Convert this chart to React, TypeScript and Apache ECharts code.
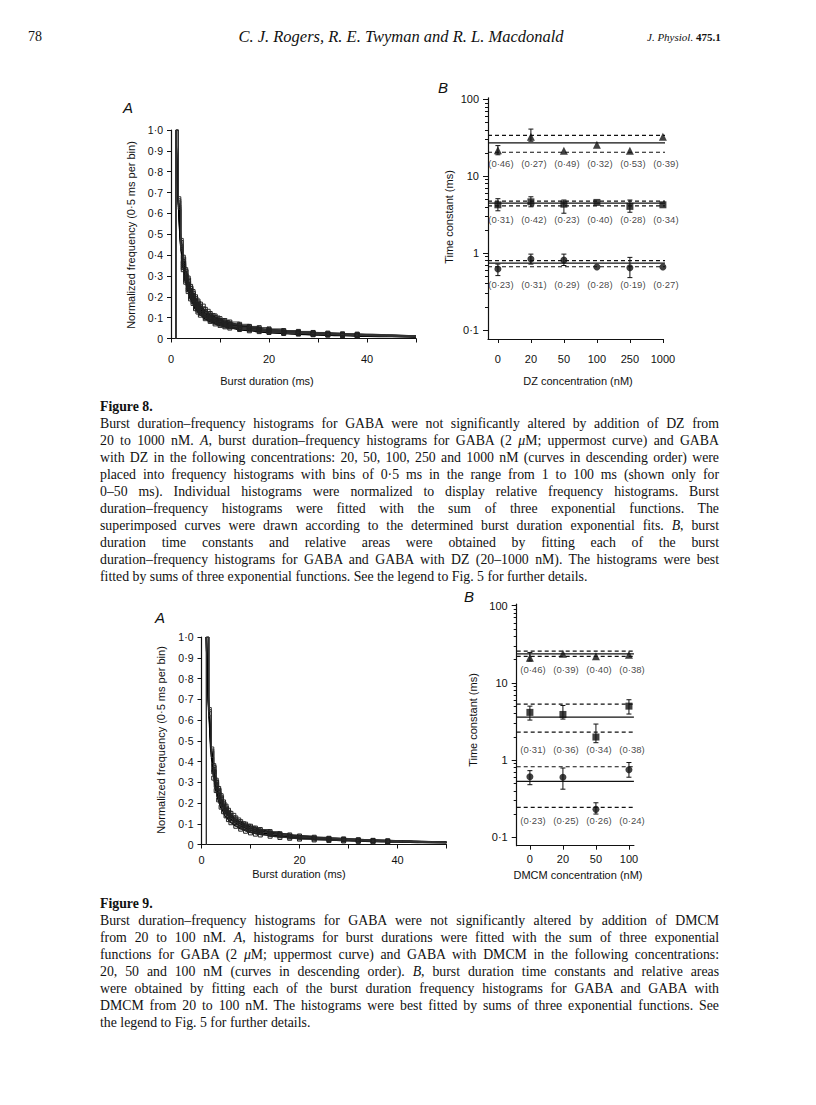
import React, { useEffect, useRef } from "react";
import * as echarts from "echarts";

// ---------- Panels A: histogram bins (ms) and fitted-curve sample points ----------
const HIST_X = [1, 1.5, 2, 2.5, 3, 3.5, 4, 4.5, 5, 5.5, 6, 7, 8, 9, 10, 11, 12, 14, 16, 18, 20, 23, 26, 29, 32, 35, 38, 41, 44, 47, 50];
const FIT_X = [1, 1.25, 1.5, 2, 2.5, 3, 3.5, 4, 5, 6, 7, 8, 10, 12, 15, 20, 25, 30, 35, 40, 45, 50];

// Figure 8A histograms (GABA, DZ 20, 50, 100, 250, 1000 nM)
const H8_GABA = [1.0, 0.68, 0.48, 0.39, 0.33, 0.29, 0.25, 0.225, 0.2, 0.18, 0.165, 0.14, 0.12, 0.108, 0.095, 0.086, 0.079, 0.068, 0.058, 0.052, 0.046, 0.038, 0.034, 0.029, 0.026, 0.022, 0.021, 0.018, 0.015, 0.013, 0.012];
const H8_DZ20 = [1.0, 0.67, 0.47, 0.37, 0.31, 0.275, 0.24, 0.205, 0.19, 0.165, 0.152, 0.128, 0.112, 0.1, 0.086, 0.08, 0.07, 0.062, 0.055, 0.046, 0.042, 0.035, 0.03, 0.027, 0.022, 0.021, 0.018, 0.016, 0.014, 0.012, 0.011];
const H8_DZ50 = [1.0, 0.66, 0.45, 0.36, 0.3, 0.26, 0.222, 0.2, 0.172, 0.158, 0.14, 0.12, 0.1, 0.092, 0.082, 0.07, 0.068, 0.055, 0.051, 0.043, 0.039, 0.031, 0.029, 0.023, 0.022, 0.018, 0.017, 0.014, 0.013, 0.01, 0.009];
const H8_DZ100 = [1.0, 0.64, 0.44, 0.35, 0.29, 0.245, 0.215, 0.185, 0.162, 0.145, 0.13, 0.11, 0.095, 0.083, 0.075, 0.068, 0.06, 0.052, 0.046, 0.041, 0.035, 0.03, 0.026, 0.022, 0.02, 0.017, 0.016, 0.013, 0.012, 0.01, 0.009];
const H8_DZ250 = [1.0, 0.63, 0.43, 0.34, 0.28, 0.235, 0.2, 0.178, 0.152, 0.136, 0.121, 0.102, 0.088, 0.078, 0.069, 0.061, 0.056, 0.048, 0.042, 0.037, 0.032, 0.027, 0.024, 0.02, 0.018, 0.016, 0.014, 0.012, 0.011, 0.009, 0.008];
const H8_DZ1000 = [1.0, 0.62, 0.42, 0.33, 0.27, 0.225, 0.19, 0.168, 0.143, 0.127, 0.112, 0.095, 0.082, 0.07, 0.063, 0.056, 0.05, 0.043, 0.037, 0.033, 0.029, 0.024, 0.021, 0.018, 0.016, 0.014, 0.012, 0.011, 0.009, 0.008, 0.007];

// Figure 8A fitted sums of three exponentials
const F8_GABA = [1.0, 0.82, 0.68, 0.49, 0.39, 0.325, 0.275, 0.24, 0.19, 0.157, 0.133, 0.115, 0.091, 0.075, 0.059, 0.043, 0.034, 0.027, 0.022, 0.018, 0.015, 0.012];
const F8_DZ20 = [1.0, 0.81, 0.67, 0.475, 0.375, 0.31, 0.262, 0.228, 0.178, 0.147, 0.124, 0.107, 0.085, 0.07, 0.055, 0.04, 0.032, 0.025, 0.02, 0.017, 0.014, 0.011];
const F8_DZ50 = [1.0, 0.8, 0.66, 0.462, 0.362, 0.3, 0.252, 0.218, 0.168, 0.138, 0.116, 0.1, 0.079, 0.065, 0.051, 0.037, 0.029, 0.023, 0.019, 0.016, 0.013, 0.01];
const F8_DZ100 = [1.0, 0.79, 0.65, 0.45, 0.35, 0.288, 0.242, 0.208, 0.159, 0.129, 0.108, 0.093, 0.073, 0.06, 0.047, 0.034, 0.027, 0.021, 0.017, 0.014, 0.012, 0.009];
const F8_DZ250 = [1.0, 0.78, 0.64, 0.44, 0.34, 0.277, 0.232, 0.198, 0.15, 0.121, 0.101, 0.086, 0.067, 0.055, 0.043, 0.031, 0.024, 0.019, 0.015, 0.013, 0.011, 0.008];
const F8_DZ1000 = [1.0, 0.77, 0.63, 0.43, 0.33, 0.266, 0.222, 0.188, 0.141, 0.113, 0.094, 0.08, 0.062, 0.05, 0.039, 0.028, 0.022, 0.017, 0.014, 0.011, 0.009, 0.007];

// Figure 9A histograms (GABA, DMCM 20, 50, 100 nM)
const H9_GABA = [1.0, 0.66, 0.47, 0.38, 0.31, 0.27, 0.235, 0.205, 0.185, 0.165, 0.15, 0.128, 0.11, 0.098, 0.088, 0.079, 0.072, 0.062, 0.052, 0.046, 0.041, 0.035, 0.03, 0.027, 0.023, 0.02, 0.018, 0.016, 0.014, 0.012, 0.011];
const H9_DMCM20 = [1.0, 0.65, 0.46, 0.36, 0.3, 0.255, 0.22, 0.195, 0.17, 0.152, 0.138, 0.118, 0.1, 0.09, 0.08, 0.073, 0.065, 0.056, 0.048, 0.041, 0.036, 0.031, 0.028, 0.024, 0.021, 0.019, 0.016, 0.015, 0.013, 0.011, 0.01];
const H9_DMCM50 = [1.0, 0.64, 0.45, 0.35, 0.285, 0.24, 0.205, 0.18, 0.158, 0.14, 0.125, 0.106, 0.09, 0.08, 0.07, 0.063, 0.058, 0.049, 0.042, 0.036, 0.032, 0.027, 0.024, 0.021, 0.018, 0.016, 0.014, 0.013, 0.011, 0.01, 0.009];
const H9_DMCM100 = [1.0, 0.62, 0.42, 0.32, 0.26, 0.215, 0.18, 0.158, 0.138, 0.12, 0.105, 0.088, 0.074, 0.064, 0.056, 0.05, 0.046, 0.04, 0.034, 0.03, 0.026, 0.022, 0.019, 0.017, 0.015, 0.013, 0.012, 0.01, 0.009, 0.008, 0.007];

const F9_GABA = [1.0, 0.8, 0.66, 0.47, 0.37, 0.3, 0.252, 0.218, 0.172, 0.143, 0.122, 0.106, 0.085, 0.071, 0.057, 0.042, 0.033, 0.027, 0.022, 0.018, 0.015, 0.012];
const F9_DMCM20 = [1.0, 0.79, 0.65, 0.455, 0.355, 0.287, 0.24, 0.206, 0.16, 0.132, 0.112, 0.097, 0.077, 0.064, 0.051, 0.037, 0.029, 0.023, 0.019, 0.016, 0.013, 0.011];
const F9_DMCM50 = [1.0, 0.78, 0.64, 0.445, 0.342, 0.275, 0.228, 0.194, 0.149, 0.121, 0.102, 0.088, 0.069, 0.057, 0.045, 0.033, 0.026, 0.021, 0.017, 0.014, 0.012, 0.01];
const F9_DMCM100 = [1.0, 0.77, 0.62, 0.42, 0.318, 0.252, 0.207, 0.175, 0.132, 0.106, 0.089, 0.076, 0.059, 0.049, 0.039, 0.029, 0.023, 0.018, 0.015, 0.012, 0.01, 0.008];

// ---------- Panels B: time constants (ms) ----------
const DZ_CONC = ["0", "20", "50", "100", "250", "1000"];
const F8_TAU3 = [21.8, 32.5, 21.4, 25.6, 21.4, 32.5];
const F8_TAU3_LO = [19, 28.5, null, null, null, null];
const F8_TAU3_HI = [25, 41, null, null, null, null];
const F8_TAU3_LINES = [34, 27.2, 20.5]; // upper dashed, mean, lower dashed
const F8_AREA3 = ["0·46", "0·27", "0·49", "0·32", "0·53", "0·39"];
const F8_TAU2 = [4.25, 4.64, 4.33, 4.56, 4.05, 4.25];
const F8_TAU2_LO = [3.55, 4.0, 3.3, null, 3.4, null];
const F8_TAU2_HI = [5.1, 5.4, 4.9, null, 4.9, null];
const F8_TAU2_LINES = [4.74, 4.47, 4.12];
const F8_AREA2 = ["0·31", "0·42", "0·23", "0·40", "0·28", "0·34"];
const F8_TAU1 = [0.62, 0.836, 0.81, 0.66, 0.645, 0.66];
const F8_TAU1_LO = [0.51, 0.72, 0.69, null, 0.48, null];
const F8_TAU1_HI = [0.72, 0.97, 0.97, null, 0.88, null];
const F8_TAU1_LINES = [0.8, 0.74, 0.665];
const F8_AREA1 = ["0·23", "0·31", "0·29", "0·28", "0·19", "0·27"];

const DMCM_CONC = ["0", "20", "50", "100"];
const F9_TAU3 = [21.1, 23.8, 22.2, 23.1];
const F9_TAU3_LO = [19.2, null, null, null];
const F9_TAU3_HI = [24.8, null, null, null];
const F9_TAU3_LINES = [25.8, 23.8, 22.0];
const F9_AREA3 = ["0·46", "0·39", "0·40", "0·38"];
const F9_TAU2 = [4.15, 3.9, 1.99, 5.0];
const F9_TAU2_LO = [3.3, 3.4, 1.68, 3.95];
const F9_TAU2_HI = [5.0, 5.1, 2.93, 6.05];
const F9_TAU2_LINES = [5.3, 3.6, 2.3];
const F9_AREA2 = ["0·31", "0·36", "0·34", "0·38"];
const F9_TAU1 = [0.61, 0.6, 0.23, 0.75];
const F9_TAU1_LO = [0.48, 0.42, 0.2, 0.6];
const F9_TAU1_HI = [0.73, 0.79, 0.28, 0.93];
const F9_TAU1_LINES = [0.82, 0.53, 0.244];
const F9_AREA1 = ["0·23", "0·25", "0·26", "0·24"];

const LOG_MAJOR = [0.1, 1, 10, 100];
const LOG_MINOR = [0.2, 0.3, 0.4, 0.5, 0.6, 0.7, 0.8, 0.9, 2, 3, 4, 5, 6, 7, 8, 9, 20, 30, 40, 50, 60, 70, 80, 90];

// ---------- captions ----------
const CAPTION8 = [
  "Burst duration–frequency histograms for GABA were not significantly altered by addition of DZ from",
  "20 to 1000 nM. *A*, burst duration–frequency histograms for GABA (2 *μ*M; uppermost curve) and GABA",
  "with DZ in the following concentrations: 20, 50, 100, 250 and 1000 nM (curves in descending order) were",
  "placed into frequency histograms with bins of 0·5 ms in the range from 1 to 100 ms (shown only for",
  "0–50 ms). Individual histograms were normalized to display relative frequency histograms. Burst",
  "duration–frequency histograms were fitted with the sum of three exponential functions. The",
  "superimposed curves were drawn according to the determined burst duration exponential fits. *B*, burst",
  "duration time constants and relative areas were obtained by fitting each of the burst",
  "duration–frequency histograms for GABA and GABA with DZ (20–1000 nM). The histograms were best",
  "fitted by sums of three exponential functions. See the legend to Fig. 5 for further details.",
];
const CAPTION9 = [
  "Burst duration–frequency histograms for GABA were not significantly altered by addition of DMCM",
  "from 20 to 100 nM. *A*, histograms for burst durations were fitted with the sum of three exponential",
  "functions for GABA (2 *μ*M; uppermost curve) and GABA with DMCM in the following concentrations:",
  "20, 50 and 100 nM (curves in descending order). *B*, burst duration time constants and relative areas",
  "were obtained by fitting each of the burst duration frequency histograms for GABA and GABA with",
  "DMCM from 20 to 100 nM. The histograms were best fitted by sums of three exponential functions. See",
  "the legend to Fig. 5 for further details.",
];

const INK = "#111";
const SANS = '"Liberation Sans", Arial, sans-serif';
const SERIF = '"Liberation Serif", "DejaVu Serif", serif';

const zip = (xs: number[], ys: number[]) => xs.map((x, i) => [x, ys[i]]);
const decFmt = (v: number) => (v === 0 ? "0" : v.toFixed(1).replace(".", "·"));
const logFmt = (v: number) => (v < 0.5 ? "0·1" : String(Math.round(v)));

// open squares are drawn on the bin tops between these durations (ms)
const SQUARE_FROM = 2.5;
const SQUARE_TO = 40;

function histPanel(ax: number, yIdx: number, hists: number[][], fits: number[][]) {
  const out: any[] = [];
  fits.forEach((f) => {
    out.push({
      type: "line",
      xAxisIndex: ax,
      yAxisIndex: yIdx,
      data: zip(FIT_X, f),
      smooth: 0.3,
      smoothMonotone: "x",
      symbol: "none",
      showSymbol: false,
      lineStyle: { color: "#000", width: 1.5 },
      silent: true,
      z: 2,
    });
  });
  hists.forEach((h) => {
    const pts = zip(HIST_X, h).map((p) => ({
      value: p,
      symbol: p[0] >= SQUARE_FROM && p[0] <= SQUARE_TO ? "rect" : "none",
    }));
    out.push({
      type: "line",
      xAxisIndex: ax,
      yAxisIndex: yIdx,
      data: [{ value: [HIST_X[0], 0], symbol: "none" }, ...pts],
      step: "end",
      symbol: "rect",
      symbolSize: 4,
      showSymbol: true,
      showAllSymbol: true,
      lineStyle: { color: "#333", width: 1 },
      itemStyle: { color: "rgba(0,0,0,0)", borderColor: "#222", borderWidth: 1 },
      silent: true,
      z: 3,
    });
  });
  return out;
}

function tauGroup(
  xi: number,
  yi: number,
  vals: number[],
  lo: (number | null)[],
  hi: (number | null)[],
  lines: number[],
  areas: string[],
  symbol: string,
  size: number,
  labelRow: number,
  lineSpan: [number, number]
) {
  const out: any[] = [];
  lines.forEach((v, k) => {
    out.push({
      type: "line",
      xAxisIndex: xi,
      yAxisIndex: yi,
      data: [
        [lineSpan[0], v],
        [lineSpan[1], v],
      ],
      symbol: "none",
      clip: false,
      lineStyle: { color: INK, width: 1.2, type: k === 1 ? "solid" : [4, 3] },
      silent: true,
      z: 2,
    });
  });
  out.push({
    type: "custom",
    xAxisIndex: xi,
    yAxisIndex: yi,
    encode: { x: 0, y: [1, 2] },
    data: vals
      .map((_, i) => (lo[i] != null && hi[i] != null ? [i, lo[i], hi[i]] : null))
      .filter((d) => d !== null),
    renderItem: (_p: any, api: any) => {
      const x = api.value(0);
      const a = api.coord([x, api.value(1)]);
      const b = api.coord([x, api.value(2)]);
      const w = 2.5;
      const st = { stroke: INK, lineWidth: 1 };
      return {
        type: "group",
        children: [
          { type: "line", shape: { x1: a[0], y1: a[1], x2: b[0], y2: b[1] }, style: st },
          { type: "line", shape: { x1: a[0] - w, y1: a[1], x2: a[0] + w, y2: a[1] }, style: st },
          { type: "line", shape: { x1: b[0] - w, y1: b[1], x2: b[0] + w, y2: b[1] }, style: st },
        ],
      };
    },
    silent: true,
    z: 3,
  });
  out.push({
    type: "scatter",
    xAxisIndex: xi,
    yAxisIndex: yi,
    data: vals.map((v, i) => [i, v]),
    symbol,
    symbolSize: size,
    itemStyle: { color: INK },
    silent: true,
    z: 4,
  });
  out.push({
    type: "scatter",
    xAxisIndex: xi,
    yAxisIndex: yi,
    data: areas.map((a, i) => ({ name: "(" + a + ")", value: [i, labelRow] })),
    symbolSize: 0,
    label: {
      show: true,
      position: "inside",
      offset: [3, 0],
      formatter: (p: any) => p.name,
      color: INK,
      fontSize: 9.5,
      fontFamily: SANS,
    },
    silent: true,
    z: 4,
  });
  return out;
}

const axisLine = { show: true, onZero: false, lineStyle: { color: INK, width: 1.2 } };
const tickStyle = { color: INK, width: 1 };

function valueX(grid: number, labelMargin: number) {
  return {
    gridIndex: grid,
    type: "value",
    position: "bottom",
    min: 0,
    max: 50,
    interval: 10,
    axisLine,
    axisTick: { show: true, length: 4, lineStyle: tickStyle },
    axisLabel: {
      formatter: (v: number) => (v % 20 === 0 ? String(v) : ""),
      color: INK,
      fontSize: 11,
      fontFamily: SANS,
      margin: labelMargin,
    },
    splitLine: { show: false },
  };
}
function valueY(grid: number) {
  return {
    gridIndex: grid,
    type: "value",
    position: "left",
    min: 0,
    max: 1,
    interval: 0.1,
    axisLine,
    axisTick: { show: true, length: 4, lineStyle: tickStyle },
    axisLabel: { formatter: decFmt, color: INK, fontSize: 10.5, fontFamily: SANS, margin: 8 },
    splitLine: { show: false },
  };
}
function concX(grid: number, labels: string[], min: number, max: number, labelMargin: number) {
  const idx = labels.map((_, i) => i);
  return {
    gridIndex: grid,
    type: "value",
    position: "bottom",
    min,
    max,
    axisLine,
    axisTick: { show: true, length: 4, lineStyle: tickStyle, customValues: idx },
    axisLabel: {
      customValues: idx,
      formatter: (v: number) => labels[Math.round(v)] ?? "",
      color: INK,
      fontSize: 11,
      fontFamily: SANS,
      margin: labelMargin,
    },
    splitLine: { show: false },
  };
}
function logY(grid: number, min: number, max: number) {
  return [
    {
      gridIndex: grid,
      type: "log",
      logBase: 10,
      position: "left",
      offset: 0,
      min,
      max,
      axisLine,
      axisTick: { show: true, length: 5, lineStyle: tickStyle, customValues: LOG_MAJOR },
      axisLabel: { customValues: LOG_MAJOR, formatter: logFmt, color: INK, fontSize: 11, fontFamily: SANS, margin: 9 },
      splitLine: { show: false },
      minorTick: { show: false },
    },
    {
      gridIndex: grid,
      type: "log",
      logBase: 10,
      position: "left",
      offset: 0,
      min,
      max,
      axisLine: { show: false, onZero: false },
      axisTick: { show: true, length: 3, lineStyle: tickStyle, customValues: LOG_MINOR },
      axisLabel: { show: false },
      splitLine: { show: false },
      minorTick: { show: false },
    },
  ];
}

function txt(x: number, y: number, text: string, opts: any = {}) {
  return {
    type: "text",
    x,
    y,
    rotation: opts.rot ? Math.PI / 2 : 0,
    style: {
      text,
      fill: INK,
      fontSize: opts.size ?? 11,
      fontFamily: SANS,
      fontStyle: opts.italic ? "italic" : "normal",
      fontWeight: opts.bold ? "bold" : "normal",
      align: "center",
      verticalAlign: "middle",
    },
    silent: true,
  };
}

function buildOption() {
  return {
    animation: false,
    backgroundColor: "#fff",
    textStyle: { fontFamily: SANS, color: INK },
    grid: [
      { left: 171, top: 130, width: 245, height: 208.5, containLabel: false, outerBoundsMode: "none" },
      { left: 488, top: 97.8, width: 174.9, height: 241.2, containLabel: false, outerBoundsMode: "none" },
      { left: 201.5, top: 637, width: 245, height: 207.5, containLabel: false, outerBoundsMode: "none" },
      { left: 516.7, top: 604.2, width: 117.2, height: 241.5, containLabel: false, outerBoundsMode: "none" },
    ],
    xAxis: [
      valueX(0, 15),
      concX(1, DZ_CONC, -0.3, 5, 14.5),
      valueX(2, 9.5),
      concX(3, DMCM_CONC, -0.4, 3.15, 8),
    ],
    // yAxis indices: 0 = 8A, 1/2 = 8B (major/minor), 3 = 9A, 4/5 = 9B (major/minor)
    yAxis: [valueY(0), ...logY(1, 0.0764, 104.6), valueY(2), ...logY(3, 0.0778, 104.6)],
    series: [
      ...histPanel(0, 0, [H8_GABA, H8_DZ20, H8_DZ50, H8_DZ100, H8_DZ250, H8_DZ1000], [F8_GABA, F8_DZ20, F8_DZ50, F8_DZ100, F8_DZ250, F8_DZ1000]),
      ...histPanel(2, 3, [H9_GABA, H9_DMCM20, H9_DMCM50, H9_DMCM100], [F9_GABA, F9_DMCM20, F9_DMCM50, F9_DMCM100]),
      ...tauGroup(1, 1, F8_TAU3, F8_TAU3_LO, F8_TAU3_HI, F8_TAU3_LINES, F8_AREA3, "triangle", 8, 14.5, [-0.3, 5.35]),
      ...tauGroup(1, 1, F8_TAU2, F8_TAU2_LO, F8_TAU2_HI, F8_TAU2_LINES, F8_AREA2, "rect", 7, 2.7, [-0.3, 5.35]),
      ...tauGroup(1, 1, F8_TAU1, F8_TAU1_LO, F8_TAU1_HI, F8_TAU1_LINES, F8_AREA1, "circle", 7, 0.386, [-0.3, 5.35]),
      ...tauGroup(3, 4, F9_TAU3, F9_TAU3_LO, F9_TAU3_HI, F9_TAU3_LINES, F9_AREA3, "triangle", 8, 14.7, [-0.4, 3.15]),
      ...tauGroup(3, 4, F9_TAU2, F9_TAU2_LO, F9_TAU2_HI, F9_TAU2_LINES, F9_AREA2, "rect", 7, 1.39, [-0.4, 3.15]),
      ...tauGroup(3, 4, F9_TAU1, F9_TAU1_LO, F9_TAU1_HI, F9_TAU1_LINES, F9_AREA1, "circle", 7, 0.167, [-0.4, 3.15]),
    ],
    graphic: [
      txt(128, 107, "A", { italic: true, size: 15 }),
      txt(443, 87, "B", { italic: true, size: 15 }),
      txt(160, 617, "A", { italic: true, size: 15 }),
      txt(469, 596, "B", { italic: true, size: 15 }),
      txt(131, 235, "Normalized frequency (0·5 ms per bin)", { rot: true }),
      txt(267, 381, "Burst duration (ms)"),
      txt(449, 217, "Time constant (ms)", { rot: true }),
      txt(578, 381, "DZ concentration (nM)"),
      txt(161, 740, "Normalized frequency (0·5 ms per bin)", { rot: true }),
      txt(299, 874, "Burst duration (ms)"),
      txt(473, 720, "Time constant (ms)", { rot: true }),
      txt(578, 875, "DMCM concentration (nM)"),
    ],
  };
}

function segs(line: string) {
  return line.split("*").map((s, i) => (i % 2 ? <i key={i}>{s}</i> : <React.Fragment key={i}>{s}</React.Fragment>));
}

const LINE_GAP = 17;

function Caption({ title, lines, top }: { title: string; lines: string[]; top: number }) {
  const base: React.CSSProperties = {
    position: "absolute",
    left: 100,
    width: 619,
    height: LINE_GAP,
    lineHeight: LINE_GAP + "px",
    fontFamily: SERIF,
    fontSize: 13.8,
    color: INK,
    textAlign: "justify",
  };
  return (
    <>
      <div style={{ ...base, top: top - LINE_GAP / 2, fontWeight: "bold", textAlignLast: "left" } as any}>{title}</div>
      {lines.map((l, k) => (
        <div
          key={k}
          style={{ ...base, top: top + LINE_GAP * (k + 1) - LINE_GAP / 2, textAlignLast: k === lines.length - 1 ? "left" : "justify" } as any}
        >
          {segs(l)}
        </div>
      ))}
    </>
  );
}

export default function App() {
  const ref = useRef<HTMLDivElement>(null);
  useEffect(() => {
    if (!ref.current) return;
    const chart = echarts.init(ref.current, undefined, { renderer: "svg" });
    chart.setOption(buildOption() as any);
    return () => chart.dispose();
  }, []);
  return (
    <div style={{ position: "absolute", left: 0, top: 0, width: 816, height: 1105, background: "#fff", overflow: "hidden" }}>
      <div ref={ref} style={{ position: "absolute", left: 0, top: 0, width: 816, height: 1105 }} />
      <div style={{ position: "absolute", left: 28, top: 28, fontFamily: SERIF, fontSize: 14, color: INK, lineHeight: "18px" }}>78</div>
      <div
        style={{
          position: "absolute",
          left: 150,
          width: 502,
          top: 27,
          textAlign: "center",
          fontFamily: SERIF,
          fontStyle: "italic",
          fontSize: 16.5,
          color: INK,
          lineHeight: "20px",
        }}
      >
        C. J. Rogers, R. E. Twyman and R. L. Macdonald
      </div>
      <div
        style={{
          position: "absolute",
          left: 647,
          top: 29,
          fontFamily: SERIF,
          fontSize: 11,
          color: INK,
          lineHeight: "16px",
          whiteSpace: "nowrap",
        }}
      >
        <i>J. Physiol.</i> <b>475.1</b>
      </div>
      <Caption title="Figure 8." lines={CAPTION8} top={406} />
      <Caption title="Figure 9." lines={CAPTION9} top={903} />
    </div>
  );
}
